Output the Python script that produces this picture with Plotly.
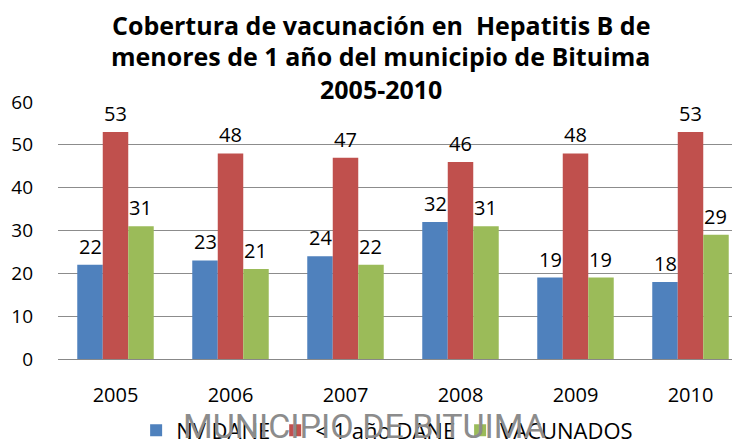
import plotly.graph_objects as go

years = ["2005", "2006", "2007", "2008", "2009", "2010"]
nv_dane = [22, 23, 24, 32, 19, 18]
menores_dane = [53, 48, 47, 46, 48, 53]
vacunados = [31, 21, 22, 31, 19, 29]

series_names = ["NV DANE", "< 1 año DANE", "VACUNADOS"]
series_values = [nv_dane, menores_dane, vacunados]
series_colors = ["#4F81BD", "#C0504D", "#9BBB59"]

title_lines = [
    "Cobertura de vacunación en\u00a0\u00a0Hepatitis B de",
    "menores de 1 año del municipio de Bituima",
    "2005-2010",
]
watermark = "MUNICIPIO DE BITUIMA"

FONT = "Open Sans"
BARGAP = 0.335

fig = go.Figure()
for name, vals, col in zip(series_names, series_values, series_colors):
    fig.add_trace(go.Bar(
        x=list(range(len(years))), y=vals, name=name,
        marker=dict(color=col, line=dict(width=0)),
        cliponaxis=False,
    ))

# data labels above bars
bw = (1 - BARGAP) / 3
annotations = []
for k, vals in enumerate(series_values):
    off = (k - 1) * bw
    for i, v in enumerate(vals):
        annotations.append(dict(
            x=i + off, y=v, xref="x", yref="y", text=str(v), showarrow=False,
            yanchor="bottom", yshift=3,
            font=dict(family=FONT, size=20, color="black"),
        ))

title_y = [1.300, 1.180, 1.049]
for line, ty in zip(title_lines, title_y):
    annotations.append(dict(
        x=0.468, y=ty, xref="paper", yref="paper", text=f"<b>{line}</b>",
        showarrow=False, xanchor="center", yanchor="middle",
        font=dict(family=FONT, size=25, color="black"),
    ))

annotations.append(dict(
    x=0.4435, y=-0.175, xref="paper", yref="paper", text=watermark,
    showarrow=False, xanchor="center", yanchor="top",
    font=dict(family="Roboto", size=34, color="#8c8c8c"),
))

fig.update_layout(
    width=740, height=440,
    margin=dict(l=50, r=0, t=94, b=89, autoexpand=False),
    paper_bgcolor="white", plot_bgcolor="white",
    barmode="group", bargap=BARGAP, bargroupgap=0,
    font=dict(family=FONT, color="black"),
    showlegend=True,
    legend=dict(
        orientation="h", x=0.477, xanchor="center", y=-0.278, yanchor="middle",
        font=dict(family=FONT, size=22, color="black"),
        bgcolor="rgba(0,0,0,0)", itemclick=False,
    ),
    annotations=annotations,
)
fig.update_xaxes(
    range=[-0.5, 5.5], tickmode="array",
    tickvals=list(range(len(years))), ticktext=years,
    showgrid=False, showline=True, linecolor="#888888", linewidth=1,
    ticks="", tickfont=dict(family=FONT, size=20, color="black"),
    ticklabelstandoff=18, zeroline=False, automargin=False,
)
fig.update_yaxes(
    range=[0, 60], dtick=10, showgrid=True, gridcolor="#8c8c8c", gridwidth=1,
    showline=False, zeroline=False, ticks="",
    tickfont=dict(family=FONT, size=19, color="black"),
    ticklabelstandoff=24, automargin=False,
)

fig.write_html("out.html")
